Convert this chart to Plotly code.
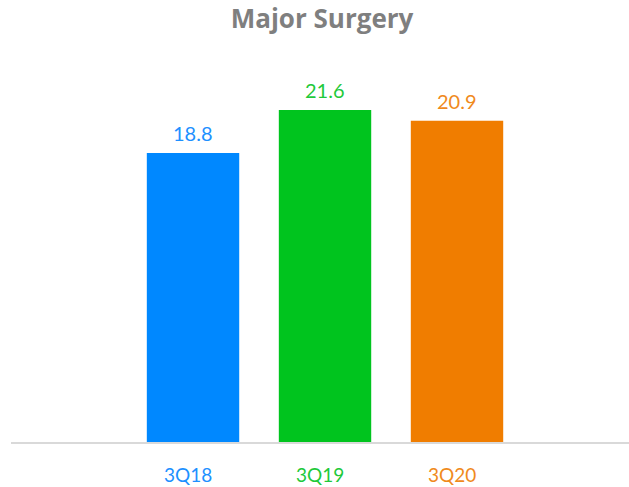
import plotly.graph_objects as go

categories = ["3Q18", "3Q19", "3Q20"]
values = [18.8, 21.6, 20.9]
colors = ["#0088FF", "#00C41E", "#F07D00"]
label_colors = ["#1E90FF", "#1FC93A", "#F08A1C"]

FONT = "Lato, Open Sans, sans-serif"

fig = go.Figure()
fig.add_trace(go.Bar(
    x=categories, y=values,
    marker=dict(color=colors, line=dict(width=0)),
    width=0.70,
    hoverinfo="skip",
))

for c, v, col in zip(categories, values, label_colors):
    fig.add_annotation(x=c, y=v, xref="x", yref="y", text=f"{v:.1f}",
                       showarrow=False, yanchor="bottom", yshift=6,
                       font=dict(family=FONT, size=20, color=col))
    fig.add_annotation(x=c, y=0, xref="x", yref="y", text=c,
                       showarrow=False, yanchor="middle", yshift=-32, xshift=-5,
                       font=dict(family=FONT, size=19, color=col))

fig.update_layout(
    width=629, height=487,
    margin=dict(l=11, r=0, t=60, b=45),
    paper_bgcolor="white", plot_bgcolor="white",
    title=dict(text="<b>Major Surgery</b>", x=0.512, xanchor="center", y=0.961, yanchor="middle",
               font=dict(family="Open Sans, sans-serif", size=26, color="#7F7F7F")),
    showlegend=False,
    xaxis=dict(type="category", range=[-1.379, 3.303], showticklabels=False,
               showline=True, linecolor="#D9D9D9", linewidth=1.5, showgrid=False, zeroline=False),
    yaxis=dict(range=[0, 24.85], visible=False, showgrid=False, zeroline=False),
)

fig.write_html("out.html", config={"displayModeBar": False},
               post_script="document.body.style.margin='0px';")
